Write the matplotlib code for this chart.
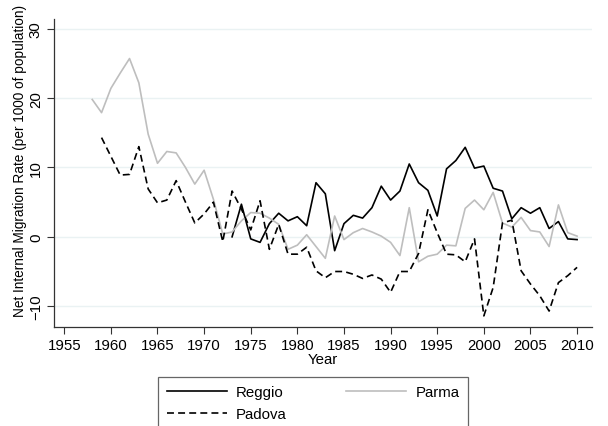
import matplotlib
matplotlib.use('Agg')
import matplotlib.pyplot as plt

# net internal migration rate, per 1000 of population
years_parma = list(range(1958, 2011))
parma = [19.8, 17.9, 21.4, 23.6, 25.7, 22.2, 14.8, 10.6, 12.3, 12.1,
         10.0, 7.6, 9.6, 5.4, 0.4, 0.7, 2.3, 3.5, 3.4, 2.7,
         1.8, -1.8, -1.2, 0.3, -1.4, -3.1, 3.0, -0.4, 0.6, 1.2,
         0.7, 0.1, -0.8, -2.7, 4.2, -3.6, -2.8, -2.5, -1.2, -1.3,
         4.1, 5.3, 3.9, 6.4, 2.0, 1.4, 2.8, 0.9, 0.7, -1.4,
         4.6, 0.6, 0.1]

years_padova = list(range(1959, 2011))
padova = [14.3, 11.6, 8.9, 9.0, 13.0, 6.9, 4.9, 5.3, 8.1, 5.0,
          2.0, 3.3, 5.0, -0.7, 6.6, 4.0, 1.0, 5.2, -1.8, 1.8,
          -2.5, -2.5, -1.5, -4.9, -5.9, -5.0, -5.0, -5.4, -6.0, -5.5,
          -6.1, -8.0, -5.0, -5.0, -2.4, 3.9, 0.6, -2.5, -2.6, -3.6,
          -0.3, -11.4, -7.3, 2.0, 2.4, -4.9, -6.8, -8.5, -10.7, -6.6,
          -5.6, -4.4]

years_reggio = list(range(1973, 2011))
reggio = [0.0, 4.7, -0.3, -0.8, 1.9, 3.4, 2.3, 2.9, 1.6, 7.8,
          6.2, -2.0, 1.9, 3.1, 2.7, 4.2, 7.3, 5.3, 6.6, 10.5,
          7.8, 6.7, 3.0, 9.8, 11.0, 12.9, 9.9, 10.2, 7.0, 6.6,
          2.6, 4.2, 3.4, 4.2, 1.2, 2.2, -0.3, -0.4]

xticks = list(range(1955, 2011, 5))
yticks = [-10, 0, 10, 20, 30]

plt.rcParams['font.family'] = ['Liberation Sans', 'DejaVu Sans']
plt.rcParams['font.size'] = 10.8
plt.rcParams['lines.scale_dashes'] = False

fig = plt.figure(figsize=(6.08, 4.27), dpi=100)
ax = fig.add_axes([54/608, 1-328/427, (592-54)/608, (328-20)/427])

for y in yticks:
    ax.axhline(y, color='#eaf2f3', lw=1.0, zorder=0)

l1, = ax.plot(years_reggio, reggio, color='black', lw=1.2, label='Reggio')
l2, = ax.plot(years_parma, parma, color='#bebebe', lw=1.2, label='Parma')
l3, = ax.plot(years_padova, padova, color='black', lw=1.2, dashes=(5, 3),
              label='Padova')

ax.set_xlim(1953.9, 2011.6)
ax.set_ylim(-13.0, 31.4)
ax.set_xticks(xticks)
ax.set_yticks(yticks)
ax.set_yticklabels([str(v).replace('-', '\u2212') for v in yticks],
                   rotation=90, va='center')
ax.tick_params(length=5, width=0.8, color='#333333', pad=3)
for s in ['top', 'right']:
    ax.spines[s].set_visible(False)
for s in ['left', 'bottom']:
    ax.spines[s].set_linewidth(0.9)
    ax.spines[s].set_color('#333333')

ax.set_xlabel('Year', labelpad=0)
fig.text(20/608, 1-317/427, 'Net Internal Migration Rate (per 1000 of population)',
         rotation=90, ha='center', va='bottom', fontsize=9.8)

# column-major fill: Reggio, Padova | Parma
leg = fig.legend(handles=[l1, l3, l2], ncol=2, loc='upper center',
                 bbox_to_anchor=(313/608, 1-378/427), frameon=True,
                 fancybox=False, handlelength=4.0, handletextpad=0.6,
                 columnspacing=4.0, borderpad=0.55, labelspacing=0.5,
                 borderaxespad=0)
leg.get_frame().set_edgecolor('#404040')
leg.get_frame().set_linewidth(0.9)

fig.savefig('out.png', dpi=100)
